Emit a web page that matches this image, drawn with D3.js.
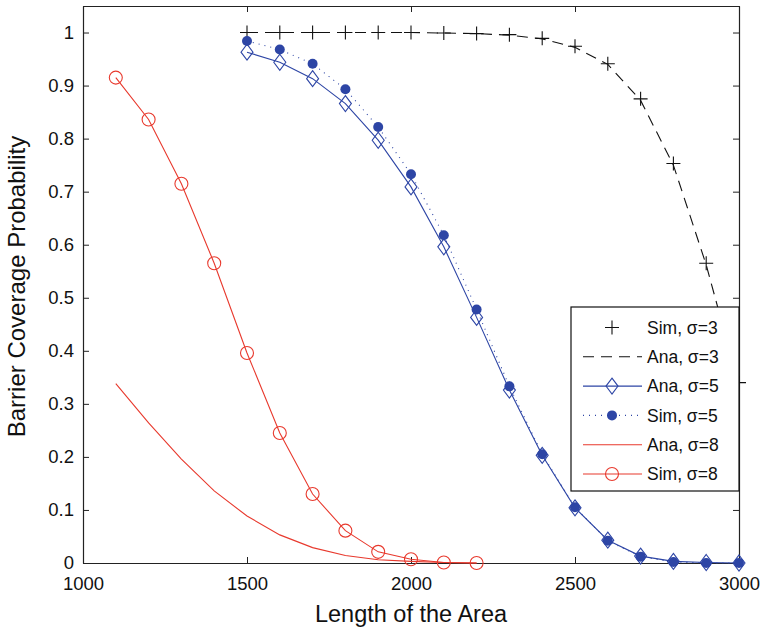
<!DOCTYPE html>
<html>
<head>
<meta charset="utf-8">
<script src="https://cdn.jsdelivr.net/npm/d3@7"></script>
<style>
  body { margin: 0; background: #fff; }
  svg { display: block; font-family: 'Liberation Sans', Arial, Helvetica, sans-serif; }
</style>
</head>
<body>
<svg id="chart"></svg>
<script>
// lengths of the area (x values)
const lenSigma3 = [1500, 1600, 1700, 1800, 1900, 2000, 2100, 2200, 2300, 2400, 2500, 2600, 2700, 2800, 2900, 3000]
const lenSigma5 = [1500, 1600, 1700, 1800, 1900, 2000, 2100, 2200, 2300, 2400, 2500, 2600, 2700, 2800, 2900, 3000]
const lenSigma8 = [1100, 1200, 1300, 1400, 1500, 1600, 1700, 1800, 1900, 2000, 2100, 2200]

// barrier coverage probability
const simSigma3 = [1.0, 1.0, 1.0, 1.0, 1.0, 1.0, 0.999, 0.998, 0.996, 0.989, 0.974, 0.941, 0.875, 0.753, 0.565, 0.34]
const anaSigma3 = [1.0, 1.0, 1.0, 1.0, 1.0, 1.0, 0.999, 0.998, 0.995, 0.988, 0.972, 0.94, 0.872, 0.75, 0.562, 0.335]
const anaSigma5 = [0.963, 0.944, 0.913, 0.866, 0.797, 0.709, 0.596, 0.463, 0.326, 0.203, 0.104, 0.043, 0.013, 0.003, 0.001, 0.0]
const simSigma5 = [0.984, 0.968, 0.941, 0.893, 0.822, 0.733, 0.618, 0.478, 0.333, 0.205, 0.105, 0.042, 0.012, 0.002, 0.0, 0.0]
const anaSigma8 = [0.338, 0.264, 0.196, 0.136, 0.0885, 0.053, 0.029, 0.014, 0.006, 0.003, 0.001, 0.0]
const simSigma8 = [0.915, 0.836, 0.715, 0.565, 0.396, 0.245, 0.130, 0.061, 0.021, 0.007, 0.001, 0.0]

const xTicks = [1000, 1500, 2000, 2500, 3000]
const yTicks = [0, 0.1, 0.2, 0.3, 0.4, 0.5, 0.6, 0.7, 0.8, 0.9, 1]
const legendLabels = ['Sim, σ=3', 'Ana, σ=3', 'Ana, σ=5', 'Sim, σ=5', 'Ana, σ=8', 'Sim, σ=8']

const width = 760, height = 629
const margin = { left: 83, right: 21, top: 6, bottom: 66 }
const blue = '#2d45a5', red = '#e8392d', black = '#111'

const svg = d3.select('#chart').attr('width', width).attr('height', height)
svg.append('rect').attr('width', width).attr('height', height).attr('fill', '#fff')

const x = d3.scaleLinear().domain([1000, 3000]).range([margin.left, width - margin.right])
const y = d3.scaleLinear().domain([0, 1.05]).range([height - margin.bottom, margin.top])

const fmtY = d => d === 0 ? '0' : d === 1 ? '1' : d3.format('.1f')(d)

// axes, ticks pointing inward like matlab
svg.append('g').attr('transform', `translate(0,${y(0)})`)
  .call(d3.axisBottom(x).tickValues(xTicks).tickSizeInner(-6).tickSizeOuter(0).tickPadding(14).tickFormat(d3.format('d')))
svg.append('g').attr('transform', `translate(0,${y(1.05)})`)
  .call(d3.axisTop(x).tickValues(xTicks).tickSizeInner(-6).tickSizeOuter(0).tickFormat(''))
svg.append('g').attr('transform', `translate(${x(1000)},0)`)
  .call(d3.axisLeft(y).tickValues(yTicks).tickSizeInner(-6).tickSizeOuter(0).tickPadding(9).tickFormat(fmtY))
svg.append('g').attr('transform', `translate(${x(3000)},0)`)
  .call(d3.axisRight(y).tickValues(yTicks).tickSizeInner(-6).tickSizeOuter(0).tickFormat(''))

svg.selectAll('.domain').attr('stroke', '#222').attr('stroke-width', 1.2)
svg.selectAll('.tick line').attr('stroke', '#222')
svg.selectAll('.tick text').attr('font-size', '18.5px').attr('fill', '#111').attr('font-family', null)

// axis titles
svg.append('text')
  .attr('x', (x(1000) + x(3000)) / 2).attr('y', 622)
  .attr('text-anchor', 'middle').attr('font-size', '23.5px').attr('fill', '#111')
  .text('Length of the Area')
svg.append('text')
  .attr('transform', `translate(25,${(y(0) + y(1.05)) / 2 + 2}) rotate(-90)`)
  .attr('text-anchor', 'middle').attr('font-size', '24px').attr('fill', '#111')
  .text('Barrier Coverage Probability')

const plot = svg.append('g')

function toPts (xs, ys) {
  return xs.map((d, i) => [d, ys[i]])
}

const line = d3.line().x(d => x(d[0])).y(d => y(d[1]))

function drawPlus (g, px, py, color) {
  g.append('path').attr('d', `M${px - 7},${py}H${px + 7}M${px},${py - 7}V${py + 7}`)
    .attr('stroke', color).attr('stroke-width', 1.1).attr('fill', 'none')
}
function drawDiamond (g, px, py, color) {
  g.append('path').attr('d', `M${px},${py - 8}L${px + 6},${py}L${px},${py + 8}L${px - 6},${py}Z`)
    .attr('stroke', color).attr('stroke-width', 1.1).attr('fill', 'none')
}
function drawDot (g, px, py, color) {
  g.append('circle').attr('cx', px).attr('cy', py).attr('r', 5).attr('fill', color)
}
function drawRing (g, px, py, color) {
  g.append('circle').attr('cx', px).attr('cy', py).attr('r', 6.5)
    .attr('fill', 'none').attr('stroke', color).attr('stroke-width', 1.1)
}

const series = [
  { pts: toPts(lenSigma3, simSigma3), color: black, dash: null, noLine: true, marker: drawPlus },
  { pts: toPts(lenSigma3, anaSigma3), color: black, dash: '11,7', marker: null },
  { pts: toPts(lenSigma5, anaSigma5), color: blue, dash: null, marker: drawDiamond },
  { pts: toPts(lenSigma5, simSigma5), color: blue, dash: '1,5', marker: drawDot },
  { pts: toPts(lenSigma8, anaSigma8), color: red, dash: null, marker: null },
  { pts: toPts(lenSigma8, simSigma8), color: red, dash: null, marker: drawRing }
]

series.forEach(s => {
  if (!s.noLine) {
    plot.append('path').datum(s.pts).attr('d', line)
      .attr('fill', 'none').attr('stroke', s.color).attr('stroke-width', 1.1)
      .attr('stroke-dasharray', s.dash)
  }
  if (s.marker) {
    s.pts.forEach(p => s.marker(plot, x(p[0]), y(p[1]), s.color))
  }
})

// legend box
const lg = svg.append('g')
lg.append('rect').attr('x', 571).attr('y', 307).attr('width', 168).attr('height', 184)
  .attr('fill', '#fff').attr('stroke', '#111').attr('stroke-width', 1.2)

series.forEach((s, i) => {
  const ly = 327.5 + i * 29.3
  if (!s.noLine) {
    lg.append('line').attr('x1', 583).attr('x2', 642).attr('y1', ly).attr('y2', ly)
      .attr('stroke', s.color).attr('stroke-width', 1.1).attr('stroke-dasharray', s.dash)
  }
  if (s.marker) s.marker(lg, 612, ly, s.color)
  lg.append('text').attr('x', 647).attr('y', ly).attr('dy', '0.36em')
    .attr('font-size', '17.5px').attr('fill', '#111').text(legendLabels[i])
})
</script>
</body>
</html>
